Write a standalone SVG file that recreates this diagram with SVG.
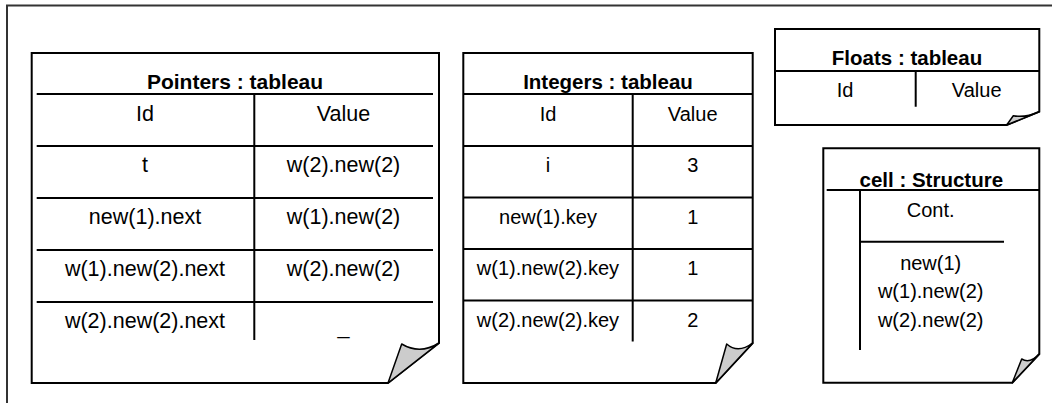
<svg xmlns="http://www.w3.org/2000/svg" width="1052" height="403" viewBox="0 0 1052 403">
<style>
.page{fill:#fff;stroke:#000;stroke-width:2}
.fold{fill:#ccc;stroke:#000;stroke-width:1.5;stroke-linejoin:round}
.ln{stroke:#000;stroke-width:2;fill:none}
.frame{stroke:#333;stroke-width:2;fill:none}
text{font-family:"Liberation Sans",Arial,sans-serif;font-size:20px;fill:#000;text-anchor:middle}
.t{font-weight:bold;font-size:20.5px}
#pointers text{font-size:21.5px}
#pointers text.t{font-size:21px}
</style>
<rect width="1052" height="403" fill="#fff"/>
<path class="frame" d="M7,403 V5.5 H1052"/>

<g id="pointers">
<path class="page" d="M31.7,53 H439 V343 L388,383 H31.7 Z"/>
<path class="fold" d="M388,383 L401.7,344 Q420,355 439,343 Z"/>
<text class="t" x="235" y="89">Pointers : tableau</text>
<path class="ln" d="M36.7,94 H433 M36.7,146 H433 M36.7,198 H433 M36.7,250 H433 M36.7,302 H433 M254.3,94 V340"/>
<text x="145" y="121">Id</text><text x="343.5" y="121">Value</text>
<text x="145" y="172">t</text><text x="343.5" y="172">w(2).new(2)</text>
<text x="145" y="224">new(1).next</text><text x="343.5" y="224">w(1).new(2)</text>
<text x="145" y="276">w(1).new(2).next</text><text x="343.5" y="276">w(2).new(2)</text>
<text x="145" y="328">w(2).new(2).next</text><text x="343.5" y="334">_</text>
</g>

<g id="integers">
<path class="page" d="M463.3,53 H752.7 V343 L715.7,383 H463.3 Z"/>
<path class="fold" d="M715.7,383 L726.7,344 Q738,354 752.7,343 Z"/>
<text class="t" x="608" y="89">Integers : tableau</text>
<path class="ln" d="M463.3,94 H752.7 M463.3,146 H752.7 M463.3,197.5 H752.7 M463.3,249 H752.7 M463.3,300.5 H752.7 M632.7,94 V341.5"/>
<text x="548" y="121">Id</text><text x="692.7" y="121">Value</text>
<text x="548" y="172">i</text><text x="692.7" y="172">3</text>
<text x="548" y="223.5">new(1).key</text><text x="692.7" y="223.5">1</text>
<text x="548" y="275">w(1).new(2).key</text><text x="692.7" y="275">1</text>
<text x="548" y="326.5">w(2).new(2).key</text><text x="692.7" y="326.5">2</text>
</g>

<g id="floats">
<path class="page" d="M775,29 H1039.3 V111.7 L1006.7,125 H775 Z"/>
<path class="fold" d="M1006.7,125 L1013.3,115.7 Q1025,118 1039.3,111.7 Z"/>
<text class="t" x="907" y="65">Floats : tableau</text>
<path class="ln" d="M775,71 H1039.3 M915.7,71 V106.7"/>
<text x="845" y="97">Id</text><text x="976.7" y="97">Value</text>
</g>

<g id="cell">
<path class="page" d="M823.3,148.3 H1039.3 V354 L1012.3,382.7 H823.3 Z"/>
<path class="fold" d="M1012.3,382.7 L1021.7,359 Q1030,364 1039.3,354 Z"/>
<text class="t" x="931.3" y="186.5">cell : Structure</text>
<path class="ln" d="M826.7,190 H1039.3 M860,190 V350 M860,241.7 H1004"/>
<text x="930.7" y="216.7">Cont.</text>
<text x="930.7" y="270">new(1)</text>
<text x="930.7" y="298.3">w(1).new(2)</text>
<text x="930.7" y="326.7">w(2).new(2)</text>
</g>

<g id="connectors"></g>
</svg>
